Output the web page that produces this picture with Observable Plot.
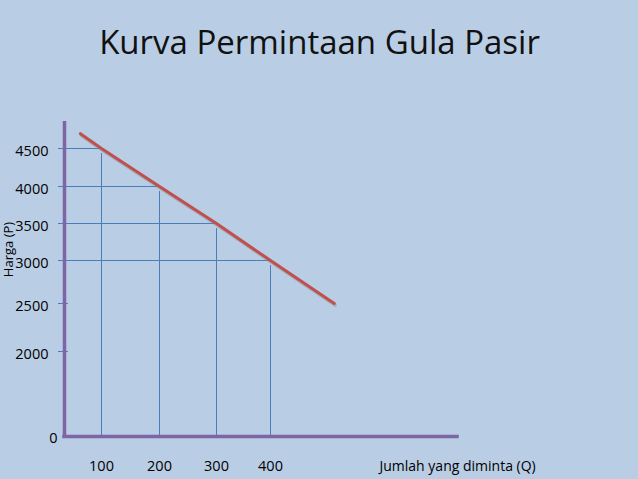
<!DOCTYPE html>
<html><head><meta charset="utf-8">
<script src="https://cdn.jsdelivr.net/npm/d3@7"></script>
<script src="https://cdn.jsdelivr.net/npm/@observablehq/plot@0.6"></script>
<style>
html,body{margin:0;padding:0;background:#b9cde5;overflow:hidden;}
svg{display:block;}
</style></head><body><div id="chart"></div>
<script>
// Data
const title = "Kurva Permintaan Gula Pasir";
const xLabel = "Jumlah yang diminta (Q)";
const yLabel = "Harga (P)";
const quantity = [100, 200, 300, 400];
const price = [4500, 4000, 3500, 3000];
const demandEndQ = [43, 516];
const demandEndP = [4700, 2500];
const yTickLabels = [2000, 2500, 3000, 3500, 4000, 4500];
const yZeroLabel = [0];
const yTickMarks = [2000, 2500];
const xTickLabels = [100, 200, 300, 400];
const axisQMax = 740;
const axisPMax = 4840;

const points = quantity.map((q, i) => ({q, p: price[i]}));
const demand = [{q: demandEndQ[0], p: demandEndP[0]}, ...points, {q: demandEndQ[1], p: demandEndP[1]}];

// The slide's axes are hand-spaced (not linear): piecewise scale transforms
const qScale = d3.scaleLinear().domain([0, 100, 200, 300, 400, 800]).range([64, 101, 159, 216, 270, 490]);
const pScale = d3.scaleLinear().domain([0, 2000, 2500, 3000, 3500, 4000, 4500, 5000]).range([436, 351, 303, 260, 223, 186, 148, 111]);

const guide = "#4a7ebb";
const axisColor = "#7d66a3";
const fs = 14.5;

const chart = Plot.plot({
  width: 638,
  height: 479,
  margin: 0,
  style: {background: "#b9cde5", fontFamily: "'Open Sans', sans-serif", fontSize: "15px", color: "#000"},
  x: {transform: qScale, domain: [0, 638], range: [0, 638], axis: null},
  y: {transform: pScale, domain: [0, 479], range: [0, 479], axis: null},
  marks: [
    Plot.ruleY(points, {y: "p", x1: 0, x2: "q", stroke: guide, strokeWidth: 1, insetLeft: -6}),
    Plot.ruleX(points, {x: "q", y1: 0, y2: "p", stroke: guide, strokeWidth: 1, insetBottom: -5}),
    Plot.ruleY(yTickMarks, {x1: 0, x2: 0, stroke: guide, strokeWidth: 1, insetLeft: -6, insetRight: -4}),
    Plot.ruleX([0], {y1: 0, y2: axisPMax, stroke: axisColor, strokeWidth: 3.5, strokeLinecap: "square"}),
    Plot.ruleY([0], {x1: 0, x2: axisQMax, stroke: axisColor, strokeWidth: 3.5, strokeLinecap: "square"}),
    Plot.line(demand, {x: "q", y: "p", stroke: "#7a7a7a", strokeOpacity: 0.35, strokeWidth: 3, dx: 1, dy: 2, strokeLinecap: "round"}),
    Plot.line(demand, {x: "q", y: "p", stroke: "#c0504d", strokeWidth: 3, strokeLinecap: "round"}),
    Plot.text(yTickLabels, {x: 0, y: d => d, text: d => String(d), textAnchor: "end", dx: -16, dy: 3, fontSize: fs, fill: "#000"}),
    Plot.text(yZeroLabel, {x: 0, y: d => d, text: d => String(d), textAnchor: "end", dx: -7, dy: 2, fontSize: fs, fill: "#000"}),
    Plot.text(xTickLabels, {x: d => d, y: 0, text: d => String(d), dy: 30, fontSize: fs, fill: "#000"}),
    Plot.text([xLabel], {frameAnchor: "top-left", dx: 379, dy: 466, textAnchor: "start", lineAnchor: "middle", fontSize: 14, fill: "#000"}),
    Plot.text([yLabel], {frameAnchor: "top-left", dx: 8, dy: 249, rotate: -90, textAnchor: "middle", lineAnchor: "middle", fontSize: 13, fill: "#000"}),
    Plot.text([title], {frameAnchor: "top", dy: 43, lineAnchor: "middle", fontSize: 33, fill: "#111"})
  ]
});
document.getElementById("chart").appendChild(chart);
</script></body></html>
